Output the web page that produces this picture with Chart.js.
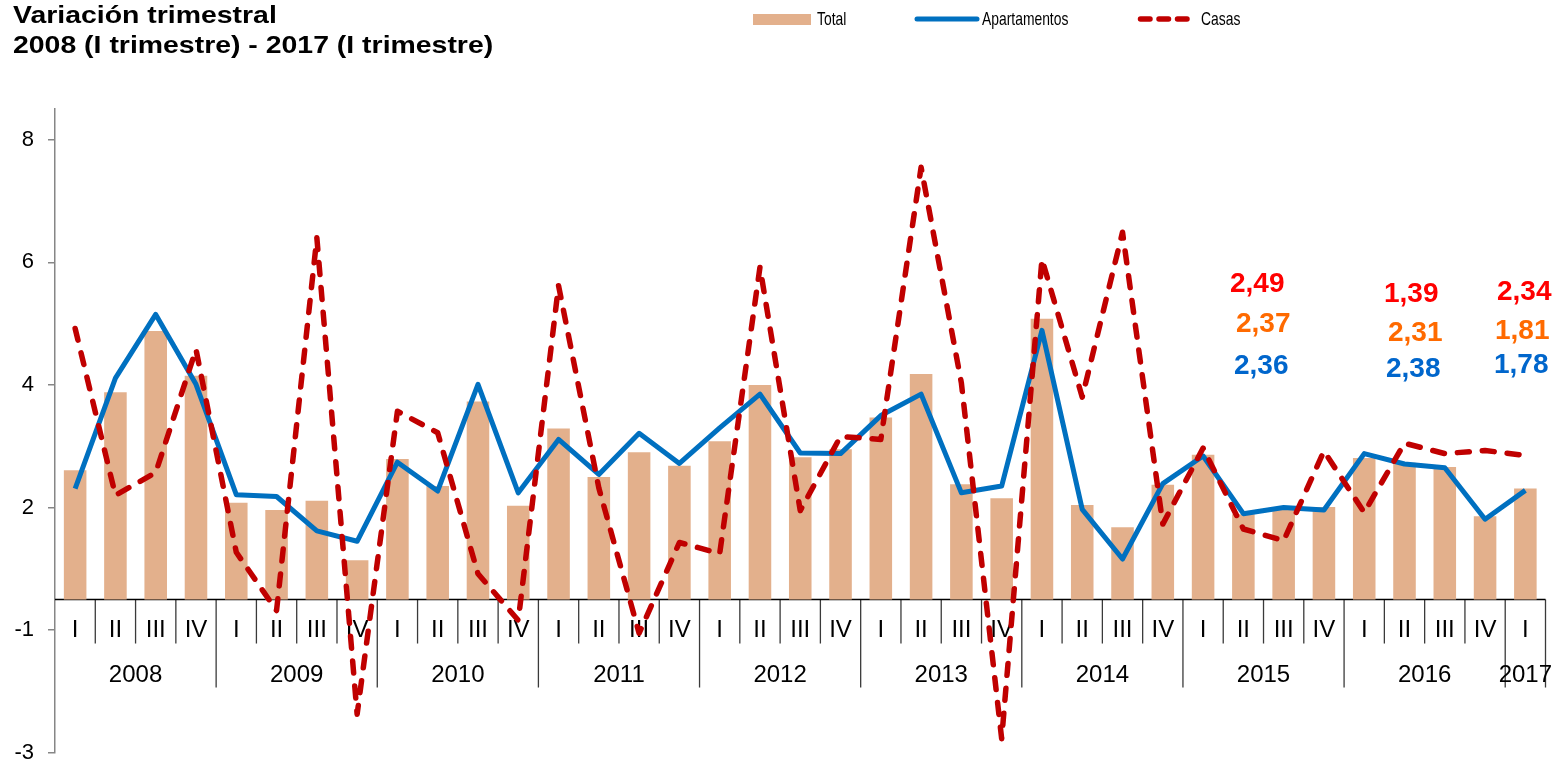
<!DOCTYPE html>
<html lang="es">

<head>
    <meta charset="UTF-8">
    <title>Variación trimestral</title>
    <script src="https://cdn.jsdelivr.net/npm/chart.js@4"></script>
    <style>
        html, body { margin: 0; padding: 0; background: #fff; }
        body { width: 1554px; height: 766px; position: relative; overflow: hidden; font-family: "Liberation Sans", Arial, sans-serif; color: #000; }
        #chartBox { position: absolute; left: 0; top: 0; width: 1554px; height: 780px; }
        .title { position: absolute; left: 13px; top: 0px; font-weight: bold; font-size: 24.5px; line-height: 30px; transform: scaleX(1.16); transform-origin: 0 0; white-space: nowrap; }
        .leg { position: absolute; top: 8.6px; font-size: 18.5px; line-height: 20px; transform: scaleX(0.75); transform-origin: 0 0; white-space: nowrap; }
        .sw { position: absolute; }
        .note { position: absolute; font-weight: bold; font-size: 28px; line-height: 28px; white-space: nowrap; }
        .red { color: #ff0000; }
        .orange { color: #ff6a00; }
        .blue { color: #0066cc; }
    </style>
</head>

<body>
    <div id="chartBox"><canvas id="myChart"></canvas></div>

    <div class="title">Variación trimestral<br>2008 (I trimestre) - 2017 (I trimestre)</div>

    <!-- leyenda -->
    <div class="sw" style="left:753px; top:14px; width:58px; height:10.5px; background:#e3b08c;"></div>
    <div class="leg" style="left:816.5px;">Total</div>
    <svg class="sw" style="left:910px; top:10px;" width="75" height="18">
        <line x1="7" y1="9" x2="67" y2="9" stroke="#0070c0" stroke-width="5" stroke-linecap="round" />
    </svg>
    <div class="leg" style="left:981.5px;">Apartamentos</div>
    <svg class="sw" style="left:1130px; top:10px;" width="75" height="18">
        <line x1="10.5" y1="9" x2="64.5" y2="9" stroke="#c00000" stroke-width="5.5" stroke-linecap="round" stroke-dasharray="9.5 9" />
    </svg>
    <div class="leg" style="left:1201px;">Casas</div>

    <!-- cifras -->
    <div class="note red" style="left:1230px; top:269px;" id="n0"></div>
    <div class="note orange" style="left:1236px; top:309px;" id="n1"></div>
    <div class="note blue" style="left:1234px; top:351px;" id="n2"></div>
    <div class="note red" style="left:1384px; top:279px;" id="n3"></div>
    <div class="note orange" style="left:1388px; top:318px;" id="n4"></div>
    <div class="note blue" style="left:1386px; top:354px;" id="n5"></div>
    <div class="note red" style="left:1497px; top:277px;" id="n6"></div>
    <div class="note orange" style="left:1495px; top:316px;" id="n7"></div>
    <div class="note blue" style="left:1494px; top:350px;" id="n8"></div>

    <script>
        // datos
        const quarters = ['I', 'II', 'III', 'IV', 'I', 'II', 'III', 'IV', 'I', 'II', 'III', 'IV',
            'I', 'II', 'III', 'IV', 'I', 'II', 'III', 'IV', 'I', 'II', 'III', 'IV',
            'I', 'II', 'III', 'IV', 'I', 'II', 'III', 'IV', 'I', 'II', 'III', 'IV', 'I'];
        const years = ['2008', '2009', '2010', '2011', '2012', '2013', '2014', '2015', '2016', '2017'];
        const quartersPerYear = [4, 4, 4, 4, 4, 4, 4, 4, 4, 1];

        const total = [2.61, 3.88, 4.88, 4.15, 2.08, 1.96, 2.11, 1.14, 2.79, 2.35, 3.73, 2.03,
            3.29, 2.50, 2.90, 2.68, 3.08, 4.00, 2.82, 2.95, 3.47, 4.18, 2.38, 2.15,
            5.08, 2.04, 1.68, 2.37, 2.86, 1.89, 1.97, 2.01, 2.81, 2.73, 2.66, 1.86, 2.31];
        const apartamentos = [2.31, 4.11, 5.15, 4.01, 2.21, 2.18, 1.62, 1.45, 2.74, 2.27, 4.01, 2.24,
            3.11, 2.54, 3.21, 2.72, 3.30, 3.85, 2.89, 2.88, 3.50, 3.85, 2.24, 2.35,
            4.89, 1.97, 1.16, 2.39, 2.84, 1.90, 2.00, 1.96, 2.88, 2.71, 2.65, 1.81, 2.28];
        const casas = [4.92, 2.20, 2.57, 4.58, 1.27, 0.32, 6.40, -1.37, 3.57, 3.22, 0.92, 0.16,
            5.62, 2.32, -0.05, 1.43, 1.25, 5.92, 1.95, 3.16, 3.11, 7.55, 4.03, -1.77,
            6.05, 3.80, 6.49, 1.73, 2.97, 1.65, 1.46, 2.92, 1.92, 3.05, 2.88, 2.93, 2.85];

        const yTicks = [-2, 0, 2, 4, 6, 8];
        const yTickLabels = ['-3', '-1', '2', '4', '6', '8'];
        const axisBase = 0.5;

        const notes = ['2,49', '2,37', '2,36', '1,39', '2,31', '2,38', '2,34', '1,81', '1,78'];
        notes.forEach((t, i) => { document.getElementById('n' + i).textContent = t; });

        Chart.defaults.font.family = '"Liberation Sans", Arial, sans-serif';
        Chart.defaults.color = '#000';

        // eje de categorías con trimestres y años
        const catAxis = {
            id: 'catAxis',
            beforeDatasetsDraw(chart) {
                const { ctx, chartArea, scales: { x, y } } = chart;
                const y0 = y.getPixelForValue(axisBase);
                const half = (x.getPixelForValue(1) - x.getPixelForValue(0)) / 2;
                ctx.save();

                ctx.strokeStyle = '#3a3a3a';
                ctx.lineWidth = 1.3;
                let start = 0;
                const yearStarts = [];
                quartersPerYear.forEach(n => { yearStarts.push(start); start += n; });
                for (let i = 1; i <= quarters.length; i++) {
                    const bx = x.getPixelForValue(i) - half;
                    const isYear = i === quarters.length || yearStarts.includes(i);
                    ctx.beginPath();
                    ctx.moveTo(bx, y0);
                    ctx.lineTo(bx, y0 + (isYear ? 88 : 44));
                    ctx.stroke();
                }

                ctx.strokeStyle = '#000';
                ctx.lineWidth = 1.5;
                ctx.beginPath();
                ctx.moveTo(chartArea.left, y0);
                ctx.lineTo(chartArea.right, y0);
                ctx.stroke();

                ctx.fillStyle = '#000';
                ctx.font = '24px "Liberation Sans", Arial, sans-serif';
                ctx.textAlign = 'center';
                ctx.textBaseline = 'alphabetic';
                quarters.forEach((q, i) => {
                    ctx.fillText(q, x.getPixelForValue(i), y0 + 37.5);
                });
                years.forEach((yr, k) => {
                    const a = x.getPixelForValue(yearStarts[k]) - half;
                    const b = x.getPixelForValue(yearStarts[k] + quartersPerYear[k] - 1) + half;
                    ctx.fillText(yr, (a + b) / 2, y0 + 82.5);
                });
                ctx.restore();
            }
        };

        const ctx = document.getElementById('myChart').getContext('2d');
        new Chart(ctx, {
            type: 'bar',
            data: {
                labels: quarters,
                datasets: [
                    {
                        type: 'line',
                        label: 'Casas',
                        data: casas,
                        borderColor: '#c00000',
                        borderWidth: 5.5,
                        borderDash: [12, 13],
                        borderCapStyle: 'round',
                        borderJoinStyle: 'round',
                        pointRadius: 0,
                        tension: 0,
                        fill: false,
                        order: 0
                    },
                    {
                        type: 'line',
                        label: 'Apartamentos',
                        data: apartamentos,
                        borderColor: '#0070c0',
                        borderWidth: 5,
                        borderJoinStyle: 'round',
                        pointRadius: 0,
                        tension: 0,
                        fill: false,
                        order: 1
                    },
                    {
                        label: 'Total',
                        data: total,
                        backgroundColor: '#e3b08c',
                        base: axisBase,
                        barPercentage: 0.56,
                        categoryPercentage: 1.0,
                        order: 2
                    }
                ]
            },
            options: {
                responsive: true,
                maintainAspectRatio: false,
                animation: false,
                layout: { padding: { left: 0, top: 109, right: 8.5, bottom: 23 } },
                plugins: {
                    legend: { display: false },
                    tooltip: { enabled: false }
                },
                scales: {
                    x: {
                        display: false,
                        offset: true
                    },
                    y: {
                        min: -2,
                        max: 8.5,
                        afterBuildTicks: s => { s.ticks = yTicks.map(v => ({ value: v })); },
                        afterFit: s => { s.width = 55; },
                        ticks: {
                            callback: v => yTickLabels[yTicks.indexOf(v)],
                            color: '#000',
                            font: { size: 22 },
                            padding: 14
                        },
                        grid: { drawOnChartArea: false, tickLength: 7, color: '#868686', lineWidth: 1.5 },
                        border: { color: '#868686', width: 1.5 }
                    }
                }
            },
            plugins: [catAxis]
        });
    </script>
</body>

</html>
